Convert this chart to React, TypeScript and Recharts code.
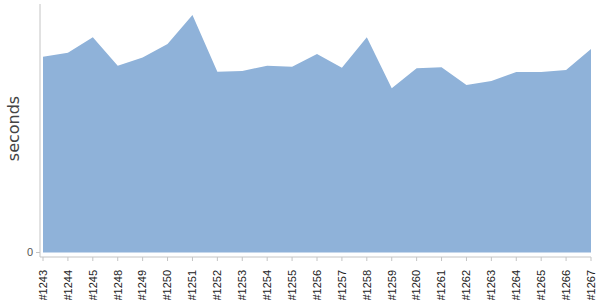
import React from "react";
import { AreaChart, Area, XAxis, YAxis } from "recharts";

const builds = [
  "#1243", "#1244", "#1245", "#1248", "#1249", "#1250", "#1251", "#1252",
  "#1253", "#1254", "#1255", "#1256", "#1257", "#1258", "#1259", "#1260",
  "#1261", "#1262", "#1263", "#1264", "#1265", "#1266", "#1267",
];

const durations = [
  195.8, 199.8, 215.2, 186.8, 195.0, 208.5, 237.5, 180.8,
  181.5, 186.8, 185.8, 198.5, 184.8, 215.2, 164.2, 184.2,
  185.2, 167.5, 171.5, 180.5, 180.5, 182.5, 203.5,
];

const yTicks = [0];

const data = builds.map((b, i) => ({ build: b, seconds: durations[i] }));

const XTick = (props: any) => {
  const { x, y, payload } = props;
  return (
    <text
      transform={`translate(${x},${y + 7}) rotate(-90)`}
      textAnchor="end"
      dy="0.35em"
      fontFamily="'Liberation Sans', Arial, sans-serif"
      fontSize={11}
      fill="#222"
    >
      {payload.value}
    </text>
  );
};

export default function App() {
  return (
    <div style={{ position: "absolute", left: 0, top: 0, width: 600, height: 300, background: "#fff" }}>
      <AreaChart
        width={600}
        height={300}
        data={data}
        margin={{ top: 4, right: 9, bottom: 3, left: 0 }}
      >
        <XAxis
          dataKey="build"
          height={40}
          interval={0}
          padding={{ left: 3, right: 0 }}
          axisLine={{ stroke: "#c4c4c4" }}
          tickLine={{ stroke: "#c4c4c4" }}
          tickSize={4}
          tick={<XTick />}
        />
        <YAxis
          width={40}
          domain={[-4.5, 248.5]}
          ticks={yTicks}
          allowDataOverflow
          axisLine={{ stroke: "#c4c4c4" }}
          tickLine={{ stroke: "#c4c4c4" }}
          tickSize={4}
          tickMargin={3}
          tick={{ fontFamily: "'Liberation Sans', Arial, sans-serif", fontSize: 11, fill: "#555" }}
          label={{
            value: "seconds",
            angle: -90,
            position: "insideLeft",
            dx: 8,
            dy: -2,
            style: { fontFamily: "'DejaVu Sans', sans-serif", fontSize: 16, fill: "#444", textAnchor: "middle" },
          }}
        />
        <Area
          type="linear"
          dataKey="seconds"
          baseValue={0}
          stroke="none"
          fill="#8fb2d9"
          fillOpacity={1}
          isAnimationActive={false}
        />
      </AreaChart>
    </div>
  );
}
